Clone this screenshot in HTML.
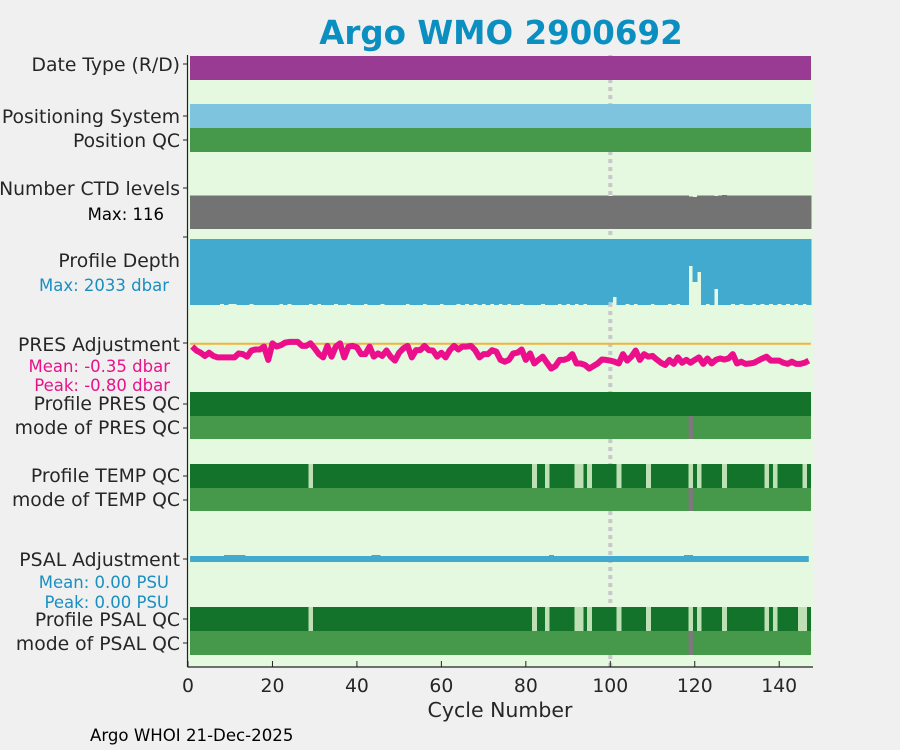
<!DOCTYPE html>
<html><head><meta charset="utf-8"><style>
body{margin:0;background:#f0f0f0;}
svg{display:block;font-family:"DejaVu Sans","Liberation Sans",sans-serif;}
#marks rect{shape-rendering:crispEdges;}
</style></head><body>
<svg id="chart" width="900" height="750" viewBox="0 0 900 750">
<rect x="0" y="0" width="900" height="750" fill="#f0f0f0"/>
<text x="501" y="44" text-anchor="middle" font-size="32.5" font-weight="bold" fill="#0a8fc0">Argo WMO 2900692</text>
<rect x="188" y="55" width="625" height="612" fill="#e5f9e0"/>
<g id="marks"></g>
<line x1="187.5" y1="55" x2="187.5" y2="667" stroke="#222" stroke-width="1.2"/>
<line x1="187.5" y1="667" x2="813" y2="667" stroke="#222" stroke-width="1.2"/>
<g font-size="18.8" fill="#262626" text-anchor="end">
<text x="180" y="71">Date Type (R/D)</text>
<text x="180" y="123">Positioning System</text>
<text x="180" y="147">Position QC</text>
<text x="180" y="195">Number CTD levels</text>
<text x="164" y="220" font-size="16.5" fill="#000">Max: 116</text>
<text x="180" y="267">Profile Depth</text>
<text x="169" y="291" font-size="16.5" fill="#1a8fc0">Max: 2033 dbar</text>
<text x="180" y="351">PRES Adjustment</text>
<text x="170" y="372" font-size="16.5" fill="#e8138a">Mean: -0.35 dbar</text>
<text x="170" y="391" font-size="16.5" fill="#e8138a">Peak: -0.80 dbar</text>
<text x="180" y="410">Profile PRES QC</text>
<text x="180" y="434">mode of PRES QC</text>
<text x="180" y="482">Profile TEMP QC</text>
<text x="180" y="506">mode of TEMP QC</text>
<text x="180" y="566">PSAL Adjustment</text>
<text x="169" y="588" font-size="16.5" fill="#1a8fc0">Mean: 0.00 PSU</text>
<text x="169" y="608" font-size="16.5" fill="#1a8fc0">Peak: 0.00 PSU</text>
<text x="180" y="626">Profile PSAL QC</text>
<text x="180" y="650">mode of PSAL QC</text>
</g>
<g id="yticks"></g>
<g id="xticks" font-size="18.8" fill="#262626" text-anchor="middle"></g>
<text x="500" y="717" text-anchor="middle" font-size="20.5" fill="#262626">Cycle Number</text>
<text x="90" y="741" font-size="16.6" fill="#000">Argo WHOI 21-Dec-2025</text>
</svg>
<script>
const NCYC = 147;
const xTicks = [0,20,40,60,80,100,120,140];
const tempBadCycles = [29,82,85,92,93,95,102,109,119,121,127,137,139,146];
const psalBadCycles = [29,82,85,92,93,95,102,109,119,121,127,137,139,145,146];
const modeGreyCycles = [119];
const ctdLevelCycles = [100,101,119,120,125,127];
const ctdLevelValues = [113,114,111,110,113,116];
const ctdDefault = 115;
const ctdMax = 116;
const depthCycles = [100,101,119,120,121,125,8,10,11,15,22,24,29,31,35,38,42,46,52,56,60,64,66,68,70,72,74,76,79,84,88,90,92,94,104,106,110,114,116,123,129,131,134,136,138,140,142,144,146];
const depthValues = [1960,1787,832,1324,1016,1540,2005,2005,2005,2005,2005,2005,2005,2005,2005,1995,2005,2005,2005,2005,2005,2005,2005,2005,2005,2005,2005,2005,2005,2005,2005,2005,2005,2005,2005,2005,2005,2005,2005,2005,2005,2005,2005,2005,2005,2005,2005,2005,2005];
const depthMax = 2033;
const presAdj = [-0.08,-0.19,-0.25,-0.34,-0.25,-0.34,-0.38,-0.38,-0.38,-0.38,-0.38,-0.27,-0.29,-0.36,-0.19,-0.16,-0.16,-0.08,-0.45,0.01,-0.08,-0.04,0.03,0.05,0.05,0.05,-0.06,-0.06,0.01,-0.13,-0.29,-0.38,-0.06,-0.36,-0.08,0.01,-0.38,-0.08,-0.06,-0.10,-0.29,-0.29,-0.08,-0.36,-0.27,-0.34,-0.19,-0.36,-0.47,-0.25,-0.13,-0.06,-0.38,-0.18,-0.18,-0.06,-0.18,-0.19,-0.36,-0.25,-0.38,-0.18,-0.06,-0.16,-0.08,-0.08,-0.06,-0.18,-0.38,-0.29,-0.29,-0.18,-0.22,-0.45,-0.50,-0.45,-0.27,-0.25,-0.16,-0.45,-0.27,-0.55,-0.45,-0.36,-0.53,-0.69,-0.62,-0.45,-0.45,-0.41,-0.29,-0.55,-0.55,-0.59,-0.69,-0.62,-0.55,-0.44,-0.45,-0.47,-0.50,-0.55,-0.29,-0.47,-0.36,-0.19,-0.45,-0.29,-0.36,-0.34,-0.44,-0.53,-0.59,-0.45,-0.56,-0.38,-0.53,-0.45,-0.53,-0.45,-0.38,-0.56,-0.41,-0.55,-0.45,-0.41,-0.44,-0.41,-0.29,-0.55,-0.50,-0.56,-0.55,-0.53,-0.47,-0.41,-0.36,-0.47,-0.47,-0.47,-0.53,-0.56,-0.50,-0.56,-0.56,-0.53,-0.47];
const psalBumpCycles = [9,10,11,12,13,44,45,86,118,119];
const psalBumpValues = [0.01,0.01,0.01,0.01,0.01,0.01,0.01,0.01,0.01,0.01];

const NS='http://www.w3.org/2000/svg';
const X0=188, XMAX=148, PW=625;
function xs(c){return X0 + c/XMAX*PW;}
const marks=document.getElementById('marks');
function rect(x,y,w,h,fill){const r=document.createElementNS(NS,'rect');r.setAttribute('x',x);r.setAttribute('y',y);r.setAttribute('width',w);r.setAttribute('height',h);r.setAttribute('fill',fill);marks.appendChild(r);return r;}
function cell(c,y,h,fill){return rect(xs(c-0.5),y,xs(c+0.5)-xs(c-0.5)+0.5,h,fill);}

const dl=document.createElementNS(NS,'line');
dl.setAttribute('x1',xs(100));dl.setAttribute('x2',xs(100));dl.setAttribute('y1',55);dl.setAttribute('y2',667);
dl.setAttribute('stroke','#c8c8c8');dl.setAttribute('stroke-width',4);dl.setAttribute('stroke-dasharray','4 4');


marks.appendChild(dl);

function fullBar(y,h,fill,name){const r=rect(xs(0.5),y,xs(NCYC+0.5)-xs(0.5),h,fill);

}
fullBar(56,24,'#993b93','date-type-bar');
fullBar(104,24,'#7ec4de','positioning-system-bar');
fullBar(128,24,'#46984a','position-qc-bar');
fullBar(392,24,'#13732a','profile-pres-qc-bar');
fullBar(416,23,'#46984a','mode-pres-qc-bar');
fullBar(464,24,'#13732a','profile-temp-qc-bar');
fullBar(488,23,'#46984a','mode-temp-qc-bar');
fullBar(607,24,'#13732a','profile-psal-qc-bar');
fullBar(631,24,'#46984a','mode-psal-qc-bar');

function qcCells(list,y,h,fill,name){list.forEach(c=>{const r=cell(c,y,h,fill);

});}
qcCells(tempBadCycles,464,24,'#bfdfb5','temp-qc-flag');
qcCells(psalBadCycles,607,24,'#bfdfb5','psal-qc-flag');
qcCells(modeGreyCycles,416,23,'#7a7a7a','pres-mode-flag');
qcCells(modeGreyCycles,488,23,'#7a7a7a','temp-mode-flag');
qcCells(modeGreyCycles,631,24,'#7a7a7a','psal-mode-flag');

const CTD_B=229, CTD_H=34;
for(let c=1;c<=NCYC;c++){const i=ctdLevelCycles.indexOf(c);const v=i>=0?ctdLevelValues[i]:ctdDefault;
const h=CTD_H*v/ctdMax;const r=cell(c,CTD_B-h,h,'#737373');

}
const D_T=239, D_H=66;
for(let c=1;c<=NCYC;c++){const i=depthCycles.indexOf(c);const v=i>=0?depthValues[i]:depthMax;
const r=cell(c,D_T,D_H*v/depthMax,'#42a9cf');

}

const P0=343.7, PK=36;
const zl=document.createElementNS(NS,'line');
zl.setAttribute('x1',xs(0.5));zl.setAttribute('x2',xs(NCYC+0.5));zl.setAttribute('y1',P0);zl.setAttribute('y2',P0);
zl.setAttribute('stroke','#f0b43c');zl.setAttribute('stroke-width',2);


marks.appendChild(zl);
const pl=document.createElementNS(NS,'polyline');
pl.setAttribute('points',presAdj.map((v,i)=>xs(i+1)+','+(P0-v*PK)).join(' '));
pl.setAttribute('fill','none');pl.setAttribute('stroke','#ec0f8c');pl.setAttribute('stroke-width',6);pl.setAttribute('stroke-linejoin','round');


marks.appendChild(pl);

const S0=559, SK=100;
const sl=document.createElementNS(NS,'line');
sl.setAttribute('x1',xs(0.5));sl.setAttribute('x2',xs(NCYC));sl.setAttribute('y1',S0);sl.setAttribute('y2',S0);
sl.setAttribute('stroke','#42a9cf');sl.setAttribute('stroke-width',6);


marks.appendChild(sl);
psalBumpCycles.forEach((c,i)=>{const h=psalBumpValues[i]*SK;const r=cell(c,S0-3-h,h+1,'#42a9cf');

});

const yt=document.getElementById('yticks');
[64,116,140,188,237,343,404,428,476,500,559,619,643].forEach(y=>{const l=document.createElementNS(NS,'line');
l.setAttribute('x1',183);l.setAttribute('x2',188);l.setAttribute('y1',y);l.setAttribute('y2',y);l.setAttribute('stroke','#222');


yt.appendChild(l);});
const xt=document.getElementById('xticks');
xTicks.forEach(t=>{const l=document.createElementNS(NS,'line');
l.setAttribute('x1',xs(t));l.setAttribute('x2',xs(t));l.setAttribute('y1',661);l.setAttribute('y2',667);l.setAttribute('stroke','#222');


xt.appendChild(l);
const tx=document.createElementNS(NS,'text');tx.setAttribute('x',xs(t));tx.setAttribute('y',692);tx.textContent=t;


xt.appendChild(tx);});
</script>
</body></html>
